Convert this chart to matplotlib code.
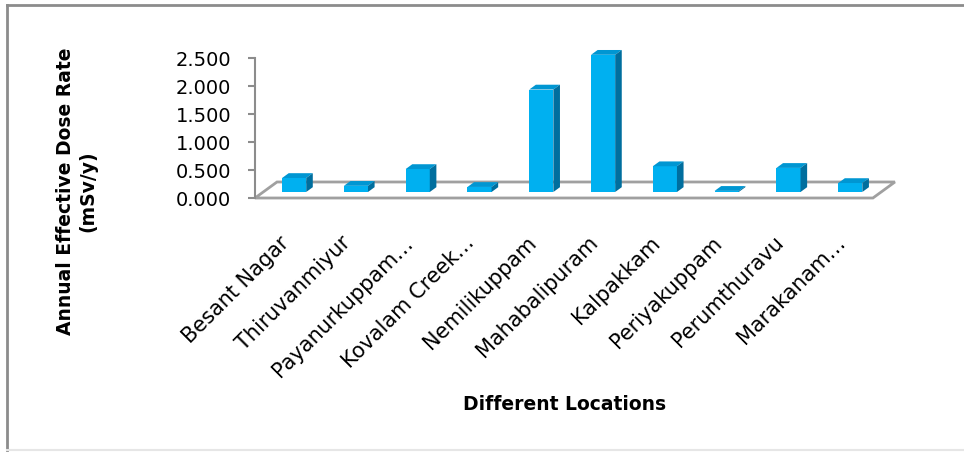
import matplotlib
matplotlib.use("Agg")
import matplotlib.pyplot as plt
from matplotlib.patches import Polygon
from matplotlib.lines import Line2D

locations = ["Besant Nagar", "Thiruvanmiyur", "Payanurkuppam\u2026", "Kovalam Creek\u2026",
             "Nemilikuppam", "Mahabalipuram", "Kalpakkam", "Periyakuppam",
             "Perumthuravu", "Marakanam\u2026"]
dose_rate = [0.25, 0.11, 0.41, 0.09, 1.83, 2.45, 0.46, 0.02, 0.43, 0.16]
y_ticks = [0.0, 0.5, 1.0, 1.5, 2.0, 2.5]

front_col = "#00B0F0"
top_col = "#0096D2"
side_col = "#006E9E"
grey = "#8C8C8C"

# fake 3d: depth of the floor, in data units
FDX, FDY = 0.356, 0.286
bar_w = 0.39
b_start = 0.375   # where the bar front sits in the floor depth
b_depth = 0.30    # how deep the bar is

plt.rcParams["font.family"] = ["DejaVu Sans"]

fig = plt.figure(figsize=(9.64, 4.53), dpi=100)
ax = fig.add_axes([255 / 964, 252.2 / 453, 655 / 964, 151.2 / 453])
ax.set_xlim(0, 10.6)
ax.set_ylim(-0.05, 2.65)

# floor outline
n = len(locations)
floor = Polygon([(0, 0), (n, 0), (n + FDX, FDY), (FDX, FDY)], closed=True,
                fill=False, edgecolor="#A0A0A0", lw=2, clip_on=False, zorder=1)
ax.add_patch(floor)

xs = [i + 0.5 + b_start * FDX for i in range(n)]
y0 = b_start * FDY
ddx, ddy = b_depth * FDX, b_depth * FDY

ax.bar(xs, dose_rate, width=bar_w, bottom=y0, color=front_col, zorder=3, clip_on=False)
for x, h in zip(xs, dose_rate):
    xl, xr = x - bar_w / 2, x + bar_w / 2
    top = y0 + h
    ax.add_patch(Polygon([(xl, top), (xr, top), (xr + ddx, top + ddy), (xl + ddx, top + ddy)],
                         closed=True, facecolor=top_col, edgecolor="none", zorder=3, clip_on=False))
    ax.add_patch(Polygon([(xr, y0), (xr + ddx, y0 + ddy), (xr + ddx, top + ddy), (xr, top)],
                         closed=True, facecolor=side_col, edgecolor="none", zorder=3, clip_on=False))

for s in ["top", "right", "bottom"]:
    ax.spines[s].set_visible(False)
ax.spines["left"].set_bounds(0, 2.5)
ax.spines["left"].set_color(grey)
ax.spines["left"].set_linewidth(1.5)

ax.set_yticks(y_ticks)
ax.set_yticklabels([f"{v:.3f}" for v in y_ticks])
ax.tick_params(axis="y", direction="out", length=5, width=1.5, color=grey,
               pad=12, labelsize=14)

ax.set_xticks([i + 0.5 for i in range(n)])
ax.set_xticklabels(locations, rotation=45, ha="right", va="center",
                   rotation_mode="anchor", fontsize=15)
ax.tick_params(axis="x", length=0, pad=28)

fig.text(76.5 / 964, 1 - 191.5 / 453, "Annual Effective Dose Rate\n(mSv/y)",
         rotation=90, ha="center", va="center", multialignment="center",
         fontsize=13.5, fontweight="bold", linespacing=1.25)
fig.text(565 / 964, 1 - 405 / 453, "Different Locations", ha="center", va="center",
         fontsize=13.5, fontweight="bold")

# chart border (left, top, bottom; right side is cut off)
fig.add_artist(Line2D([7 / 964, 7 / 964], [1 - 5 / 453, 1 - 450 / 453],
                      transform=fig.transFigure, color=grey, lw=2))
fig.add_artist(Line2D([7 / 964, 1], [1 - 5 / 453, 1 - 5 / 453],
                      transform=fig.transFigure, color=grey, lw=2))
fig.add_artist(Line2D([7 / 964, 1], [1 - 450 / 453, 1 - 450 / 453],
                      transform=fig.transFigure, color="#E6E6E6", lw=1.5))

fig.savefig("out.png", dpi=100)
